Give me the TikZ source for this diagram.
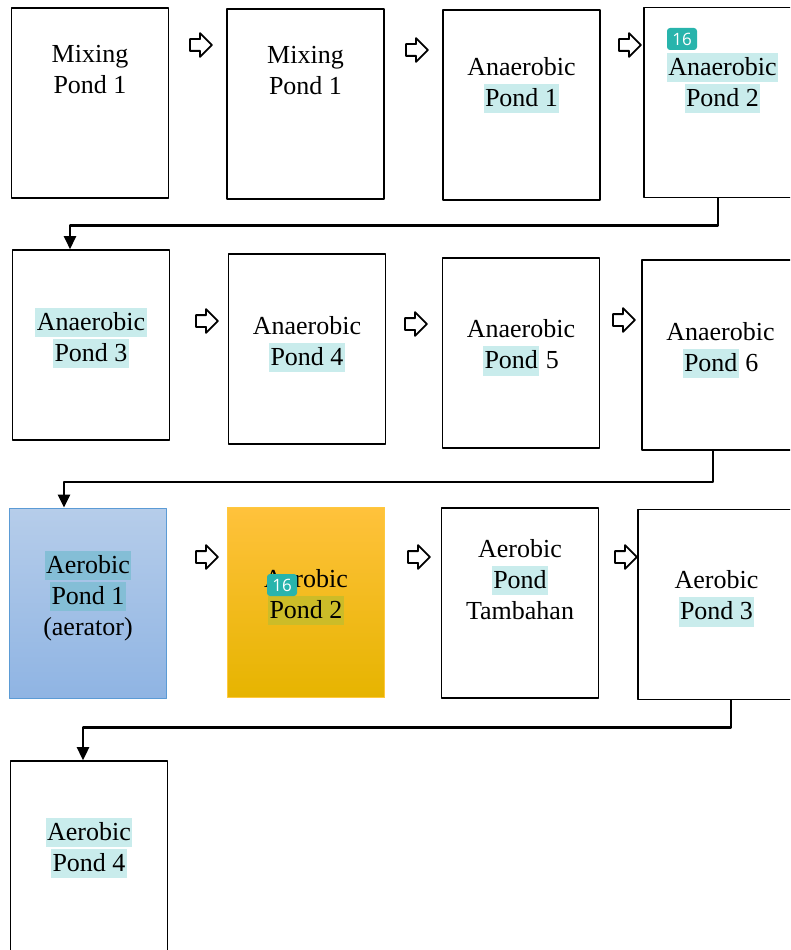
\documentclass[tikz,border=0pt]{standalone}
\usepackage{fontspec}
\setmainfont{Liberation Serif}
\newfontfamily\badgefont{Open Sans}
\usetikzlibrary{arrows.meta,shapes.arrows}
\definecolor{hlwhite}{RGB}{201,236,236}
\definecolor{hlblue}{RGB}{132,190,214}
\definecolor{hlgold}{RGB}{204,188,40}
\definecolor{badgeteal}{RGB}{40,180,172}
\newcommand{\hl}[2][hlwhite]{{\setlength{\fboxsep}{0pt}\colorbox{#1}{\rule[-0.26em]{0pt}{1.12em}\hspace{1.5pt}#2\hspace{1.5pt}}}}
\tikzset{>={Triangle[length=13pt,width=12pt]},
  pond/.style={draw, line width=1.6pt, minimum width=157pt, minimum height=190pt, inner sep=0pt},
  pondtext/.style={align=center, font=\fontsize{26}{31}\selectfont, inner sep=0pt},
  nextarrow/.style={draw, single arrow, line width=1.8pt, single arrow head extend=6pt,
    minimum width=22pt, minimum height=22pt, inner sep=5pt},
  flow/.style={->, line width=2.6pt},
  badge/.style={fill=badgeteal, rounded corners=3pt, text=white, font=\badgefont\fontsize{17}{17}\selectfont,
    minimum width=30pt, minimum height=22pt, inner sep=0pt}}

\begin{document}
\begin{tikzpicture}[x=1pt, y=-1pt, line join=round]
    \useasboundingbox (0,0) rectangle (790,950);
    \clip (0,0) rectangle (790,950);

    % first row
    \node[pond] (b1) at (90,103) {};
    \node[pond] (b2) at (305.5,104) {};
    \node[pond] (b3) at (521.5,105) {};
    \node[pond] (b4) at (722.5,102.5) {};
    \node[pondtext] (t1) at ([yshift=-62pt]b1.north) {Mixing\\Pond 1};
    \node[pondtext] (t2) at ([yshift=-62pt]b2.north) {Mixing\\Pond 1};
    \node[pondtext] (t3) at ([yshift=-76pt]b3.north) {Anaerobic\\\hl{Pond 1}};
    \node[pondtext] (t4) at ([yshift=-76pt]b4.north) {\hl{Anaerobic}\\\hl{Pond 2}};
    \node[nextarrow] (a1) at (198,45) {};
    \node[nextarrow] (a2) at (414,50) {};
    \node[nextarrow] (a3) at (627,45) {};
    \node[badge] (n1) at (682,39) {16};

    % second row
    \node[pond] (b5) at (91,345) {};
    \node[pond] (b6) at (307,349) {};
    \node[pond] (b7) at (521,353) {};
    \node[pond] (b8) at (720.5,355) {};
    \node[pondtext] (t5) at ([yshift=-88.5pt]b5.north) {\hl{Anaerobic}\\\hl{Pond 3}};
    \node[pondtext] (t6) at ([yshift=-91pt]b6.north) {Anaerobic\\\hl{Pond 4}};
    \node[pondtext] (t7) at ([yshift=-90.5pt]b7.north) {Anaerobic\\\hl{Pond} 5};
    \node[pondtext] (t8) at ([yshift=-91pt]b8.north) {Anaerobic\\\hl{Pond} 6};
    \node[nextarrow] (a4) at (204,321) {};
    \node[nextarrow] (a5) at (413,324) {};
    \node[nextarrow] (a6) at (621,320) {};

    % third row
    \node[pond, draw={rgb,255:red,91;green,155;blue,213}, line width=0.8pt,
      top color={rgb,255:red,182;green,205;blue,234}, bottom color={rgb,255:red,143;green,180;blue,227}] (b9) at (88,603) {};
    \node[pond, draw={rgb,255:red,255;green,200;blue,60}, line width=0.8pt,
      top color={rgb,255:red,255;green,194;blue,60}, middle color={rgb,255:red,255;green,192;blue,0},
      bottom color={rgb,255:red,230;green,180;blue,0}] (b10) at (306,602.5) {};
    \node[pond] (b11) at (520,603) {};
    \node[pond] (b12) at (716.5,604.5) {};
    \node[pondtext] (t9) at ([yshift=-88pt]b9.north) {\hl[hlblue]{Aerobic}\\\hl[hlblue]{Pond 1}\\(aerator)};
    \node[pondtext] (t10) at ([yshift=-90pt]b10.north) {Aerobic\\\hl[hlgold]{Pond 2}};
    \node[pondtext] (t11) at ([yshift=-72pt]b11.north) {Aerobic\\\hl{Pond}\\Tambahan};
    \node[pondtext] (t12) at ([yshift=-90pt]b12.north) {Aerobic\\\hl{Pond 3}};
    \node[nextarrow] (a7) at (204,557) {};
    \node[nextarrow] (a8) at (416,557) {};
    \node[nextarrow] (a9) at (623,557) {};
    \node[badge] (n2) at (282,585) {16};

    % last row
    \node[pond] (b13) at (89,856) {};
    \node[pondtext] (t13) at ([yshift=-88pt]b13.north) {\hl{Aerobic}\\\hl{Pond 4}};

    % row to row
    \draw[flow] ([xshift=-4.5pt]b4.south) -- ++(0,27) -| ([xshift=-21pt]b5.north);
    \draw[flow] ([xshift=-7.5pt]b8.south) -- ++(0,31) -| ([xshift=-24pt]b9.north);
    \draw[flow] ([xshift=14.5pt]b12.south) -- ++(0,27) -| ([xshift=-6pt]b13.north);

\end{tikzpicture}
\end{document}
